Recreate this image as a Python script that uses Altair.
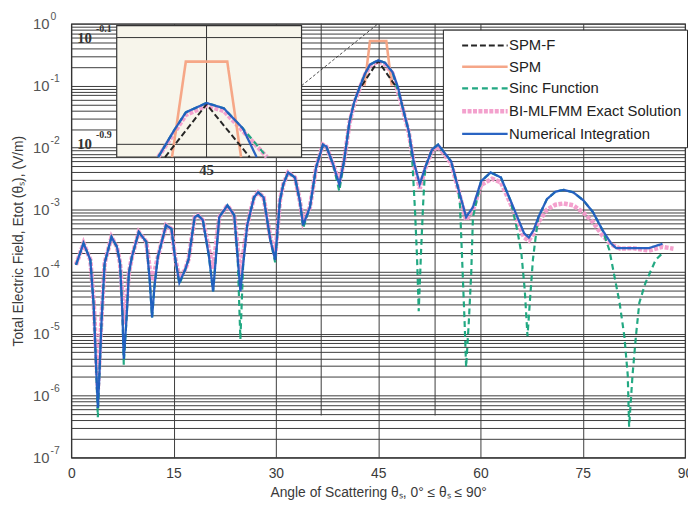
import altair as alt
import pandas as pd

# ---------------- values ----------------
# angle of scattering (deg) and total field as log10 exponent
num_angle = [0.7, 1.8, 2.8, 3.3, 3.6, 3.9, 4.1, 4.45, 4.9, 5.9, 6.7, 7.15, 7.5, 7.7, 8.1, 8.45, 8.9, 9.9,
             11.0, 11.5, 11.85, 12.2, 12.7, 13.9, 14.7, 15.2, 15.85, 16.7, 17.2, 18.1, 18.6, 19.3, 20.2,
             20.8, 21.7, 22.9, 23.9, 24.8, 25.8, 26.8, 27.4, 28.2, 29.2, 29.9, 30.6, 31.1, 31.8, 32.8,
             33.5, 34.0, 35.0, 35.9, 36.9, 37.4, 38.4, 39.3, 40.0, 40.8, 41.5, 42.2, 43.1, 43.8, 45.0,
             46.0, 47.1, 47.9, 48.5, 49.5, 50.2, 51.1, 51.9, 52.9, 53.8, 55.7, 56.7, 57.9, 58.9, 60.1,
             61.5, 63.0, 64.4, 66.4, 67.1, 67.8, 68.5, 69.75, 71.0, 72.2, 73.6, 75.1, 76.5, 77.9, 79.2,
             79.9, 84.7, 86.7]
num_exp = [-3.89, -3.54, -3.81, -4.56, -5.41, -6.2, -5.73, -4.77, -3.86, -3.44, -3.6, -3.86, -4.66, -5.41,
           -4.77, -4.02, -3.76, -3.36, -3.52, -4.13, -4.74, -4.24, -3.76, -3.25, -3.31, -3.76, -4.18, -3.97,
           -3.8, -3.12, -3.09, -3.17, -3.76, -4.32, -3.12, -2.93, -3.09, -4.32, -3.25, -2.80, -2.72, -2.80,
           -3.49, -3.81, -2.85, -2.59, -2.40, -2.48, -2.85, -3.25, -2.96, -2.32, -1.95, -1.98, -2.27, -2.59,
           -2.22, -1.58, -1.26, -1.05, -0.80, -0.66, -0.59, -0.63, -0.78, -1.02, -1.31, -1.74, -2.22, -2.59,
           -2.32, -2.03, -1.95, -2.22, -2.64, -3.12, -2.96, -2.54, -2.40, -2.48, -2.85, -3.38, -3.45, -3.33,
           -3.12, -2.83, -2.71, -2.68, -2.72, -2.85, -3.04, -3.33, -3.55, -3.62, -3.62, -3.55]

sinc_angle = [0.7, 1.8, 2.8, 3.3, 3.6, 3.9, 4.1, 4.45, 4.9, 5.9, 6.7, 7.15, 7.5, 7.7, 8.1, 8.45, 8.9, 9.9,
              11.0, 11.5, 11.85, 12.2, 12.7, 13.9, 14.7, 15.2, 15.85, 16.7, 17.2, 18.1, 18.6, 19.3, 20.2,
              20.8, 21.7, 22.9, 23.9, 24.4, 24.8, 25.2, 25.8, 26.8, 27.4, 28.2, 29.2, 29.9, 30.6, 31.1,
              31.8, 32.8, 33.5, 34.0, 35.0, 35.9, 36.9, 37.4, 38.4, 39.3, 40.0, 40.8, 41.5, 42.2, 43.1,
              43.8, 45.0, 46.0, 47.1, 48.5, 49.5, 50.0, 50.4, 50.7, 50.95, 51.3, 51.6, 51.9, 52.9, 53.8,
              55.7, 56.7, 57.0, 57.3, 57.7, 57.9, 58.3, 58.65, 58.9, 60.1, 61.5, 63.0, 64.4, 65.4, 66.0,
              66.5, 66.9, 67.3, 67.7, 68.1, 68.5, 69.75, 71.0, 72.2, 73.6, 75.1, 76.5, 77.9, 78.9, 80.4,
              81.1, 81.6, 81.8, 82.3, 82.8, 83.3, 84.2, 85.7, 86.7]
sinc_exp = [-3.89, -3.54, -3.81, -4.56, -5.41, -6.35, -5.73, -4.77, -3.86, -3.44, -3.6, -3.86, -4.66, -5.5,
            -4.77, -4.02, -3.76, -3.36, -3.52, -4.13, -4.74, -4.24, -3.76, -3.25, -3.31, -3.76, -4.2, -3.97,
            -3.8, -3.12, -3.09, -3.17, -3.76, -4.32, -3.12, -2.93, -3.09, -3.76, -5.09, -3.9, -3.25, -2.80,
            -2.72, -2.80, -3.49, -3.85, -2.85, -2.59, -2.40, -2.48, -2.85, -3.3, -2.96, -2.32, -1.95, -1.98,
            -2.27, -2.70, -2.22, -1.58, -1.26, -1.05, -0.80, -0.66, -0.59, -0.63, -0.78, -1.31, -1.74, -2.2,
            -3.0, -3.76, -4.64, -3.65, -2.9, -2.32, -2.03, -1.95, -2.22, -2.64, -2.93, -3.76, -4.88, -5.54,
            -4.8, -4.02, -3.12, -2.54, -2.40, -2.48, -2.85, -3.33, -3.7, -4.3, -5.04, -4.4, -3.8, -3.44,
            -3.12, -2.83, -2.71, -2.68, -2.72, -2.85, -3.04, -3.33, -3.65, -4.50, -5.04, -5.67, -6.50, -5.67,
            -5.04, -4.50, -4.18, -3.81, -3.70]

bi_angle = [0.7, 1.8, 2.8, 3.3, 3.6, 3.9, 4.1, 4.45, 4.9, 5.9, 6.7, 7.15, 7.5, 7.7, 8.1, 8.45, 8.9, 9.9,
            11.0, 11.5, 11.85, 12.2, 12.7, 13.9, 14.7, 15.2, 15.85, 16.7, 17.2, 18.1, 18.6, 19.3, 20.2,
            20.8, 21.7, 22.9, 23.9, 24.8, 25.8, 26.8, 27.4, 28.2, 29.2, 29.9, 30.6, 31.1, 31.8, 32.8,
            33.5, 34.0, 35.0, 35.9, 36.9, 37.4, 38.4, 39.3, 40.0, 40.8, 41.5, 42.2, 43.1, 43.8, 45.0,
            46.0, 47.1, 48.5, 49.5, 50.2, 51.1, 51.9, 52.9, 53.8, 55.7, 56.7, 57.9, 58.9, 60.1, 61.7,
            63.0, 64.4, 66.4, 67.1, 67.8, 68.5, 69.75, 71.0, 72.2, 73.6, 75.1, 76.5, 77.9, 79.2, 80.5,
            82.3, 84.7, 86.7, 88.3]
bi_exp = [-3.89, -3.54, -3.81, -4.5, -5.2, -5.9, -5.5, -4.7, -3.86, -3.44, -3.6, -3.86, -4.4, -4.85, -4.5,
          -4.02, -3.76, -3.36, -3.52, -3.95, -4.15, -4.0, -3.76, -3.25, -3.31, -3.76, -4.1, -3.97, -3.8,
          -3.12, -3.09, -3.17, -3.65, -3.95, -3.12, -2.93, -3.09, -4.05, -3.25, -2.80, -2.72, -2.80, -3.45,
          -3.75, -2.85, -2.59, -2.40, -2.48, -2.85, -3.2, -2.96, -2.32, -1.95, -1.98, -2.27, -2.55, -2.22,
          -1.6, -1.28, -1.07, -0.82, -0.68, -0.61, -0.65, -0.80, -1.33, -1.76, -2.24, -2.66, -2.34, -2.05,
          -1.98, -2.25, -2.66, -3.17, -3.0, -2.6, -2.50, -2.56, -2.9, -3.45, -3.5, -3.38, -3.2, -3.0, -2.92,
          -2.90, -2.93, -3.05, -3.2, -3.42, -3.56, -3.63, -3.62, -3.66, -3.6, -3.63]

spm_angle = [43.0, 43.8, 46.2, 47.0]
spm_exp = [-1.0, -0.28, -0.28, -1.0]

spmf_angle = [42.6, 45.0, 47.5]
spmf_exp = [-1.0, -0.60, -1.0]

series_names = ["SPM-F", "SPM", "Sinc Function", "BI-MLFMM Exact Solution", "Numerical Integration"]
x_tick_values = [0, 15, 30, 45, 60, 75, 90]
y_label_exponents = [0, -1, -2, -3, -4, -5, -6, -7]
inset_angle_domain = [39.8, 50.5]
inset_exp_domain = [-0.996, -0.011]
inset_grid_exps = [-0.1, -0.9]
inset_grid_angles = [45]
marker_angles = [36.65, 53.35]
marker_bottom_exp = -6.32
connector_angle = [33.77, 45.0]
connector_exp = [-1.0, 0.0]

# ---------------- styles ----------------
colors = ["#1a1a1a", "#f5a282", "#17a47c", "#f39ccb", "#1f5cc0"]
dashes = [[6, 3], [1, 0], [6, 4], [4, 1.5], [1, 0]]
widths = [2.0, 2.6, 2.2, 4.5, 2.3]
draw_order = ["BI-MLFMM Exact Solution", "Sinc Function", "SPM", "SPM-F", "Numerical Integration"]
FONT = "Liberation Sans"
SERIF = "Liberation Serif"
TXT = "#3a3a3a"
GRID = "#3c3c3c"

raw = {
    "SPM-F": (spmf_angle, spmf_exp),
    "SPM": (spm_angle, spm_exp),
    "Sinc Function": (sinc_angle, sinc_exp),
    "BI-MLFMM Exact Solution": (bi_angle, bi_exp),
    "Numerical Integration": (num_angle, num_exp),
}


def frame(name, subset=None):
    a, e = raw[name]
    idx = range(len(a)) if subset is None else subset
    return pd.DataFrame({
        "series": [name for _ in idx],
        "angle": [a[i] for i in idx],
        "value": [10.0 ** e[i] for i in idx],
        "idx": list(idx),
    })


def inset_subset(name):
    a, e = raw[name]
    keep = set()
    for i in range(len(a)):
        if e[i] >= inset_exp_domain[0] and inset_angle_domain[0] <= a[i] <= inset_angle_domain[1]:
            keep.update([i - 1, i, i + 1])
    return sorted(k for k in keep if 0 <= k < len(a))


# ---------------- main scales / axes ----------------
xs = alt.Scale(domain=[0, 90], nice=False, zero=False)
ys = alt.Scale(type="log", domain=[1e-7, 1.0], nice=False)
grid_vals = [m * 10.0 ** k for k in range(-7, 0) for m in range(1, 10)] + [1.0]

x_axis = alt.Axis(values=x_tick_values, grid=True, gridColor=GRID, gridWidth=1, ticks=False, domain=False,
                  labelFontSize=14, labelFont=FONT, labelColor=TXT, labelPadding=9, labelFlush=False,
                  title="Angle of Scattering θₛ, 0° ≤ θₛ ≤ 90°", titleFont=FONT, titleFontSize=14,
                  titleFontWeight="normal", titleColor=TXT, titlePadding=5)
y_axis = alt.Axis(values=grid_vals, grid=True, gridColor=GRID, gridWidth=1, ticks=False, domain=False,
                  labels=False, title="Total Electric Field, Etot (θₛ), (V/m)", titleFont=FONT,
                  titleFontSize=14, titleFontWeight="normal", titleColor=TXT, titlePadding=46)

legend = alt.Legend(title=None, orient="none", legendX=376, legendY=6, fillColor="white",
                    strokeColor="#222", padding=5, symbolType="M0.2,0H4.8", symbolSize=400,
                    labelFontSize=15, labelFont=FONT, labelColor="#222", rowPadding=2, labelOffset=37,
                    labelLimit=300, symbolStrokeWidth=2.5)

color_scale = alt.Scale(domain=series_names, range=colors)
dash_scale = alt.Scale(domain=series_names, range=dashes)
width_scale = alt.Scale(type="ordinal", domain=series_names, range=widths)

X = alt.X("angle:Q", scale=xs, axis=x_axis)
Y = alt.Y("value:Q", scale=ys, axis=y_axis)

main_layers = []
for name in draw_order:
    main_layers.append(
        alt.Chart(frame(name)).mark_line(clip=True, opacity=0.95).encode(
            x=X, y=Y,
            color=alt.Color("series:N", scale=color_scale, legend=legend),
            strokeDash=alt.StrokeDash("series:N", scale=dash_scale, legend=legend),
            strokeWidth=alt.StrokeWidth("series:N", scale=width_scale, legend=legend),
            order="idx:Q",
        )
    )

# extra vertical markers and connector line
marker_df = pd.DataFrame({"angle": marker_angles, "value": [1.0] * len(marker_angles),
                          "value2": [10.0 ** marker_bottom_exp] * len(marker_angles)})
markers = alt.Chart(marker_df).mark_rule(color=GRID, strokeWidth=1).encode(
    x=X, y=Y, y2="value2:Q")

conn_df = pd.DataFrame({"angle": [connector_angle[0]], "angle2": [connector_angle[1]],
                        "value": [10.0 ** connector_exp[0]], "value2": [10.0 ** connector_exp[1]]})
connector = alt.Chart(conn_df).mark_rule(color="#222", strokeWidth=0.8, strokeDash=[3, 2]).encode(
    x=X, x2="angle2:Q", y=Y, y2="value2:Q")

ylab_df = pd.DataFrame({"angle": [0.0] * len(y_label_exponents),
                        "value": [10.0 ** k for k in y_label_exponents],
                        "base": ["10"] * len(y_label_exponents),
                        "exp": [str(k) for k in y_label_exponents]})
ylab_base = alt.Chart(ylab_df).mark_text(align="right", baseline="middle", dx=-22, fontSize=15,
                                         font=FONT, color="#555").encode(x=X, y=Y, text="base:N")
ylab_exp = alt.Chart(ylab_df).mark_text(align="left", baseline="middle", dx=-21, dy=-7, fontSize=10.5,
                                        font=FONT, color="#555").encode(x=X, y=Y, text="exp:N")

main = alt.layer(markers, *main_layers, connector, ylab_base, ylab_exp)

# ---------------- inset ----------------
ixs = alt.Scale(domain=inset_angle_domain, range=[46, 233], clamp=True, nice=False, zero=False)
iys = alt.Scale(type="log", domain=[10.0 ** inset_exp_domain[0], 10.0 ** inset_exp_domain[1]],
                range=[135, 2], clamp=True, nice=False)
IX = alt.X("angle:Q", scale=ixs, axis=None)
IY = alt.Y("value:Q", scale=iys, axis=None)

box_df = pd.DataFrame({"angle": [inset_angle_domain[0]], "angle2": [inset_angle_domain[1]],
                       "value": [10.0 ** inset_exp_domain[0]], "value2": [10.0 ** inset_exp_domain[1]]})
box = alt.Chart(box_df).mark_rect(fill="#f7f5eb", stroke="#333", strokeWidth=1.2).encode(
    x=IX, x2="angle2:Q", y=IY, y2="value2:Q")

hgrid_df = pd.DataFrame({"angle": [inset_angle_domain[0]] * len(inset_grid_exps),
                         "angle2": [inset_angle_domain[1]] * len(inset_grid_exps),
                         "value": [10.0 ** k for k in inset_grid_exps]})
hgrid = alt.Chart(hgrid_df).mark_rule(color="#333", strokeWidth=1).encode(x=IX, x2="angle2:Q", y=IY)
vgrid_df = pd.DataFrame({"angle": inset_grid_angles,
                         "value": [10.0 ** inset_exp_domain[0]] * len(inset_grid_angles),
                         "value2": [10.0 ** inset_exp_domain[1]] * len(inset_grid_angles)})
vgrid = alt.Chart(vgrid_df).mark_rule(color="#333", strokeWidth=1).encode(x=IX, y=IY, y2="value2:Q")

inset_lines = []
for name in draw_order:
    i = series_names.index(name)
    inset_lines.append(
        alt.Chart(frame(name, inset_subset(name))).mark_line(
            color=colors[i], strokeDash=dashes[i], strokeWidth=widths[i], opacity=0.95
        ).encode(x=IX, y=IY, order="idx:Q")
    )

ilab_df = pd.DataFrame({"angle": [inset_angle_domain[0]] * len(inset_grid_exps),
                        "value": [10.0 ** k for k in inset_grid_exps],
                        "base": ["10"] * len(inset_grid_exps),
                        "exp": [str(k) for k in inset_grid_exps]})
ilab_base = alt.Chart(ilab_df).mark_text(align="right", baseline="middle", dx=-25, fontSize=15,
                                         font=SERIF, fontWeight="bold", color="#333").encode(
    x=IX, y=IY, text="base:N")
ilab_exp = alt.Chart(ilab_df).mark_text(align="left", baseline="middle", dx=-21, dy=-9, fontSize=10,
                                        font=SERIF, fontWeight="bold", color="#333").encode(
    x=IX, y=IY, text="exp:N")
ixlab_df = pd.DataFrame({"angle": inset_grid_angles,
                         "value": [10.0 ** inset_exp_domain[0]] * len(inset_grid_angles),
                         "lab": [str(a) for a in inset_grid_angles]})
ixlab = alt.Chart(ixlab_df).mark_text(align="center", baseline="middle", dy=13, fontSize=15,
                                      font=SERIF, fontWeight="bold", color="#333").encode(
    x=IX, y=IY, text="lab:N")

inset = alt.layer(box, hgrid, vgrid, *inset_lines, ilab_base, ilab_exp, ixlab)

chart = alt.layer(main, inset).resolve_scale(x="independent", y="independent").properties(
    width=621, height=439,
    padding={"left": 64, "top": 13, "right": 3, "bottom": 41},
    autosize=alt.AutoSizeParams(type="none"),
).configure_view(stroke="#222", strokeWidth=1.2)

chart.save("out.html", embed_options={"renderer": "svg", "actions": False})
